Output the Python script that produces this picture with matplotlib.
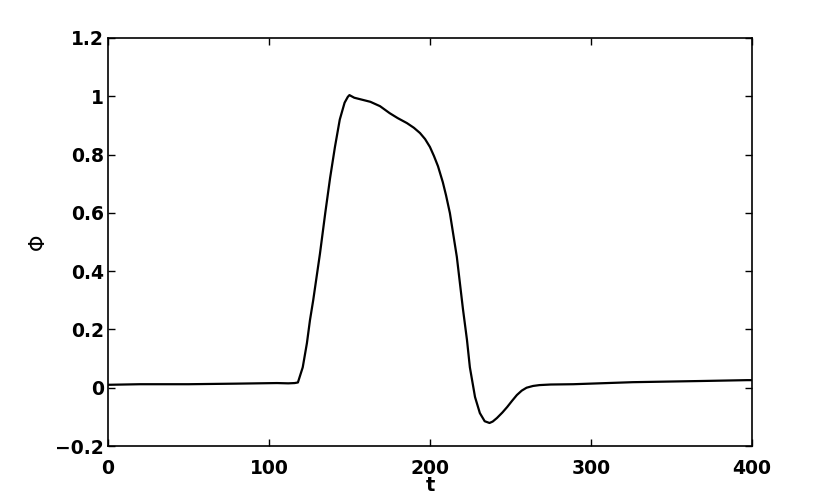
import matplotlib
matplotlib.use("Agg")
import matplotlib.pyplot as plt

# values
t = [0, 20, 50, 80, 105, 112, 116, 118, 121, 123.6, 125.5, 127.5, 131.7, 135, 138, 141,
     144, 147, 149, 150, 153, 158, 163, 169, 175, 180, 185.7, 190, 193.8, 197, 200, 202.5,
     205, 208, 210, 212.4, 216.7, 220.5, 223, 224.8, 228, 231, 234, 237, 239, 241.6, 245,
     248, 251, 254, 257, 260, 264, 268, 275, 289, 326, 368, 397, 400]
phi = [0.01, 0.012, 0.012, 0.014, 0.016, 0.015, 0.016, 0.018, 0.07, 0.153, 0.232, 0.30,
       0.46, 0.60, 0.72, 0.826, 0.92, 0.978, 0.998, 1.004, 0.995, 0.988, 0.981, 0.966,
       0.942, 0.925, 0.908, 0.892, 0.874, 0.853, 0.826, 0.795, 0.76, 0.705, 0.66, 0.599,
       0.449, 0.27, 0.164, 0.07, -0.032, -0.087, -0.115, -0.121, -0.116, -0.104, -0.085,
       -0.066, -0.045, -0.025, -0.01, 0.0, 0.006, 0.009, 0.011, 0.012, 0.019, 0.023, 0.026,
       0.026]

x_ticks = [0, 100, 200, 300, 400]
y_ticks = [-0.2, 0, 0.2, 0.4, 0.6, 0.8, 1, 1.2]
y_tick_labels = ["\u22120.2", "0", "0.2", "0.4", "0.6", "0.8", "1", "1.2"]

plt.rcParams["font.family"] = ["DejaVu Sans"]
plt.rcParams["font.weight"] = "bold"

fig = plt.figure(figsize=(8.3, 5.03), dpi=100)
ax = fig.add_axes([0.130, 0.1133, 0.776, 0.8112])
ax.plot(t, phi, color="black", linewidth=1.6, solid_joinstyle="round")

ax.set_xlim(0, 400)
ax.set_ylim(-0.2, 1.2)
ax.set_xticks(x_ticks)
ax.set_xticklabels([str(v) for v in x_ticks], fontsize=13.5, fontweight="bold")
ax.set_yticks(y_ticks)
ax.set_yticklabels(y_tick_labels, fontsize=13.5, fontweight="bold")
ax.tick_params(direction="in", length=5, width=1, top=True, right=True)
ax.tick_params(axis="x", pad=9)
ax.tick_params(axis="y", pad=3)
for s in ax.spines.values():
    s.set_linewidth(1.2)

ax.set_xlabel("t", fontsize=14, fontweight="bold", labelpad=-1)
ax.set_ylabel("\u03a6", fontsize=15, fontweight="normal", labelpad=5)

fig.savefig("out.png", dpi=100)
